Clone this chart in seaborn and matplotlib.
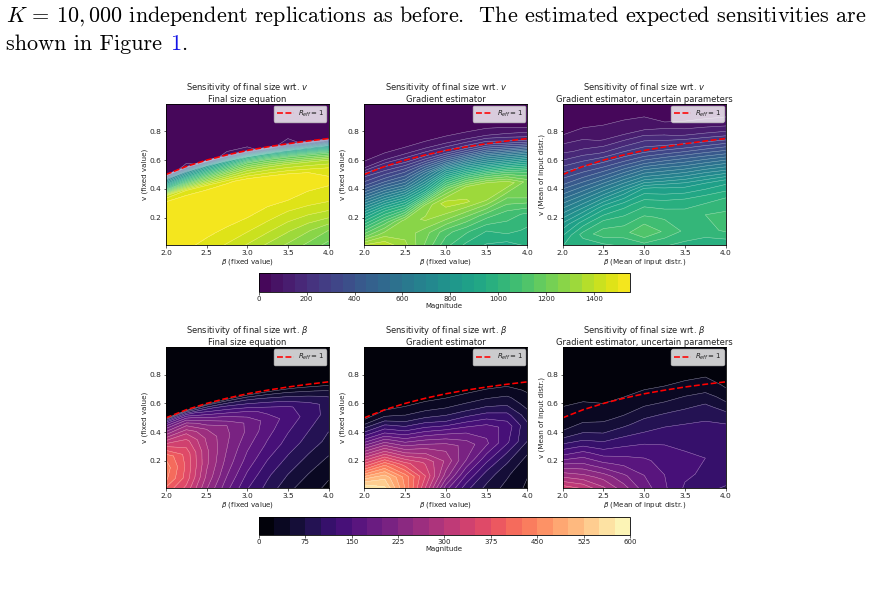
import numpy as np
import matplotlib
matplotlib.use("Agg")
import matplotlib.pyplot as plt
import seaborn as sns

W, H = 873, 594

# Parameter grid: infection rate and R_eff = 1 threshold for vaccination
beta_grid = [2.0, 2.25, 2.5, 2.75, 3.0, 3.25, 3.5, 3.75, 4.0]
r_eff_v = [0.5, 0.556, 0.6, 0.636, 0.667, 0.692, 0.714, 0.733, 0.75]
# Rows are given as a multiple of the threshold v at each beta
v_scale = [0, 0.15, 0.3, 0.45, 0.6, 0.7, 0.8, 0.87, 0.93, 0.98, 1.0, 1.1, 1.25, 1.6, 2.0]

# Each inner list holds one beta column, from the lowest row to the highest
sens_v_equation = [
    [1525, 1530, 1535, 1535, 1520, 1420, 1010, 780, 620, 280, 0, 0, 0, 0, 0],
    [1510, 1525, 1535, 1540, 1530, 1450, 1100, 860, 680, 300, 80, 0, 0, 0, 0],
    [1480, 1510, 1530, 1540, 1535, 1470, 1180, 950, 760, 320, 0, 0, 0, 0, 0],
    [1440, 1485, 1520, 1535, 1530, 1495, 1260, 1040, 830, 340, 80, 0, 0, 0, 0],
    [1390, 1450, 1500, 1525, 1530, 1510, 1330, 1150, 900, 350, 80, 0, 0, 0, 0],
    [1335, 1405, 1470, 1515, 1530, 1510, 1345, 1160, 890, 340, 0, 0, 0, 0, 0],
    [1285, 1355, 1430, 1500, 1525, 1510, 1350, 1150, 850, 330, 100, 0, 0, 0, 0],
    [1230, 1305, 1400, 1485, 1515, 1500, 1350, 1140, 820, 320, 0, 0, 0, 0, 0],
    [1175, 1250, 1380, 1470, 1510, 1490, 1350, 1130, 800, 300, 0, 0, 0, 0, 0],
]
sens_v_gradient = [
    [1380, 1180, 1010, 840, 650, 520, 400, 320, 280, 240, 220, 90, 20, 0, 0],
    [1400, 1280, 1130, 940, 700, 550, 410, 330, 270, 215, 200, 80, 15, 0, 0],
    [1320, 1280, 1270, 1000, 740, 560, 420, 340, 260, 190, 180, 70, 10, 0, 0],
    [1190, 1220, 1310, 1260, 900, 720, 560, 420, 300, 210, 190, 70, 10, 0, 0],
    [1060, 1120, 1270, 1380, 1180, 960, 720, 500, 350, 230, 200, 70, 10, 0, 0],
    [980, 1060, 1200, 1360, 1300, 1060, 770, 560, 380, 260, 220, 70, 10, 0, 0],
    [940, 1000, 1120, 1300, 1350, 1100, 780, 600, 420, 290, 240, 70, 10, 0, 0],
    [920, 1020, 1070, 1190, 1340, 1110, 790, 590, 390, 250, 200, 60, 10, 0, 0],
    [950, 990, 1040, 1200, 1230, 1080, 800, 580, 360, 210, 170, 50, 10, 0, 0],
]
sens_v_uncertain = [
    [950, 900, 820, 710, 600, 520, 450, 390, 360, 330, 320, 260, 170, 30, 0],
    [960, 1020, 920, 780, 640, 545, 455, 395, 350, 310, 300, 225, 130, 10, 0],
    [980, 1080, 1000, 880, 700, 590, 470, 400, 340, 295, 280, 190, 90, 0, 0],
    [1000, 1080, 1020, 930, 770, 640, 510, 420, 350, 300, 280, 195, 80, 0, 0],
    [1020, 1150, 1060, 980, 860, 690, 550, 440, 360, 300, 280, 200, 70, 0, 0],
    [1000, 1090, 1040, 960, 840, 680, 540, 435, 350, 285, 265, 165, 50, 0, 0],
    [980, 1040, 1030, 960, 830, 680, 530, 430, 340, 270, 250, 130, 30, 0, 0],
    [960, 1030, 1050, 980, 850, 700, 540, 430, 340, 265, 240, 120, 25, 0, 0],
    [950, 1060, 1060, 1000, 880, 710, 550, 430, 340, 260, 230, 110, 20, 0, 0],
]
sens_beta_equation = [
    [390, 430, 440, 420, 350, 290, 230, 190, 140, 65, 0, 0, 0, 0, 0],
    [340, 365, 370, 365, 335, 300, 250, 200, 140, 65, 0, 0, 0, 0, 0],
    [250, 270, 280, 280, 270, 250, 200, 150, 105, 50, 0, 0, 0, 0, 0],
    [180, 200, 215, 225, 230, 225, 175, 130, 90, 42, 0, 0, 0, 0, 0],
    [125, 145, 165, 180, 195, 195, 160, 115, 80, 38, 0, 0, 0, 0, 0],
    [90, 105, 125, 145, 160, 165, 140, 105, 70, 32, 0, 0, 0, 0, 0],
    [55, 75, 95, 115, 130, 140, 130, 95, 62, 28, 0, 0, 0, 0, 0],
    [35, 50, 70, 90, 105, 115, 110, 85, 52, 22, 0, 0, 0, 0, 0],
    [18, 30, 48, 68, 80, 90, 92, 72, 45, 18, 0, 0, 0, 0, 0],
]
sens_beta_gradient = [
    [590, 500, 390, 300, 210, 150, 100, 70, 38, 24, 20, 8, 0, 0, 0],
    [560, 520, 430, 320, 220, 155, 105, 70, 45, 28, 24, 9, 0, 0, 0],
    [450, 440, 360, 260, 170, 115, 70, 48, 32, 22, 19, 6, 0, 0, 0],
    [320, 350, 320, 250, 170, 115, 70, 48, 32, 22, 18, 6, 0, 0, 0],
    [180, 240, 270, 240, 165, 105, 65, 45, 30, 20, 16, 5, 0, 0, 0],
    [105, 150, 200, 215, 165, 115, 72, 50, 34, 22, 18, 5, 0, 0, 0],
    [65, 90, 135, 180, 165, 120, 78, 55, 38, 25, 20, 6, 0, 0, 0],
    [40, 55, 85, 130, 140, 110, 75, 55, 38, 25, 20, 6, 0, 0, 0],
    [20, 27, 45, 75, 80, 60, 38, 30, 20, 12, 10, 3, 0, 0, 0],
]
sens_beta_uncertain = [
    [350, 285, 225, 160, 112, 80, 52, 46, 40, 36, 34, 28, 20, 3, 0],
    [330, 265, 210, 160, 105, 78, 56, 46, 40, 34, 32, 25, 14, 1, 0],
    [285, 240, 180, 130, 88, 65, 48, 40, 34, 28, 25, 18, 8, 0, 0],
    [240, 205, 165, 130, 95, 72, 52, 42, 34, 28, 26, 18, 6, 0, 0],
    [190, 175, 155, 130, 100, 82, 65, 50, 40, 32, 30, 18, 6, 0, 0],
    [155, 150, 140, 125, 105, 88, 68, 52, 42, 34, 30, 18, 5, 0, 0],
    [120, 130, 130, 120, 105, 92, 72, 58, 46, 36, 33, 20, 6, 0, 0],
    [105, 120, 125, 120, 105, 95, 78, 62, 48, 40, 36, 20, 6, 0, 0],
    [95, 115, 125, 112, 102, 82, 53, 40, 27, 20, 17, 8, 2, 0, 0],
]

row_titles = ["Sensitivity of final size wrt. $v$", r"Sensitivity of final size wrt. $\beta$"]
col_titles = ["Final size equation", "Gradient estimator", "Gradient estimator, uncertain parameters"]
x_labels = [r"$\beta$ (fixed value)", r"$\beta$ (fixed value)", r"$\beta$ (Mean of input distr.)"]
y_labels = ["v (fixed value)", "v (fixed value)", "v (Mean of input distr.)"]
legend_label = r"$R_{eff} = 1$"
colorbar_label = "Magnitude"
levels_v = list(range(0, 1551, 50))
levels_beta = list(range(0, 601, 25))
ticks_v = list(range(0, 1401, 200))
ticks_beta = list(range(0, 601, 75))
body_line_1 = r"$K\,=\,10,000$ independent replications as before.  The estimated expected sensitivities are"
body_line_2 = ["shown in Figure ", "1", "."]

sns.set_theme(style="ticks", font="DejaVu Sans", rc={
    "axes.linewidth": 0.6,
    "axes.edgecolor": "black",
    "xtick.major.size": 1.8,
    "ytick.major.size": 1.8,
    "xtick.major.width": 0.5,
    "ytick.major.width": 0.5,
    "xtick.major.pad": 1.5,
    "ytick.major.pad": 1.5,
    "xtick.color": "#222222",
    "ytick.color": "#222222",
    "text.color": "#222222",
    "axes.labelcolor": "#222222",
    "mathtext.fontset": "dejavusans",
})

fig = plt.figure(figsize=(W / 100, H / 100), dpi=100, facecolor="white")


def frame(left, top, right, bottom):
    return [left / W, 1 - bottom / H, (right - left) / W, (bottom - top) / H]


col_edges = [(166, 328.5), (364.3, 527.3), (562.7, 725.7)]
row_edges = [(104, 245), (347.3, 488.3)]
tables = [
    [sens_v_equation, sens_v_gradient, sens_v_uncertain],
    [sens_beta_equation, sens_beta_gradient, sens_beta_uncertain],
]
cmaps = [sns.color_palette("viridis", as_cmap=True), sns.color_palette("magma", as_cmap=True)]
levels_by_row = [levels_v, levels_beta]
ticks_by_row = [ticks_v, ticks_beta]
bar_edges = [(273.3, 292), (516.7, 535)]

beta_arr = np.array(beta_grid)
threshold = np.array(r_eff_v)
X = np.tile(beta_arr, (len(v_scale), 1))
Y = np.outer(v_scale, threshold)

for r, (top, bottom) in enumerate(row_edges):
    filled = None
    for c, (left, right) in enumerate(col_edges):
        ax = fig.add_axes(frame(left, top, right, bottom))
        Z = np.array(tables[r][c], dtype=float).T
        filled = ax.contourf(X, Y, Z, levels=levels_by_row[r], cmap=cmaps[r])
        ax.contour(X, Y, Z, levels=levels_by_row[r][1:], colors="white",
                   linewidths=0.35, alpha=0.5)
        sns.lineplot(x=beta_grid, y=r_eff_v, ax=ax, color="red", linestyle="--",
                     linewidth=1.15, label=legend_label, estimator=None, sort=False)
        ax.set_xlim(2, 4)
        ax.set_ylim(0.01, 0.99)
        ax.set_xticks([2, 2.5, 3, 3.5, 4])
        ax.set_yticks([0.2, 0.4, 0.6, 0.8])
        ax.tick_params(labelsize=5.4)
        ax.set_xlabel(x_labels[c], fontsize=5.1, labelpad=0.8)
        ax.set_ylabel(y_labels[c], fontsize=5.1, labelpad=1.2)
        ax.set_title(row_titles[r] + "\n" + col_titles[c], fontsize=6.05, pad=1.8,
                     linespacing=1.05)
        ax.legend(loc="upper right", fontsize=5.0, handlelength=2.4, borderpad=0.4,
                  borderaxespad=0.3, framealpha=0.8, handletextpad=0.6)
    cax = fig.add_axes(frame(258.7, bar_edges[r][0], 630, bar_edges[r][1]))
    cbar = fig.colorbar(filled, cax=cax, orientation="horizontal", ticks=ticks_by_row[r])
    cbar.ax.tick_params(labelsize=5.0, length=1.8, width=0.5, pad=1.2)
    cbar.set_label(colorbar_label, fontsize=5.0, labelpad=0.8)
    cbar.outline.set_linewidth(0.6)

# Running body text above the figure panels
body_font = dict(family="cmr10", fontsize=15.95, color="black", math_fontfamily="cm")
fig.text(6 / W, 1 - 22 / H, body_line_1, **body_font)
renderer = fig.canvas.get_renderer()
cursor = 6
for piece, colour in zip(body_line_2, ["black", "#1414e6", "black"]):
    style = dict(body_font, color=colour)
    txt = fig.text(cursor / W, 1 - 50 / H, piece, **style)
    cursor = txt.get_window_extent(renderer).x1 + 0.5

fig.savefig("out.png", dpi=100)
